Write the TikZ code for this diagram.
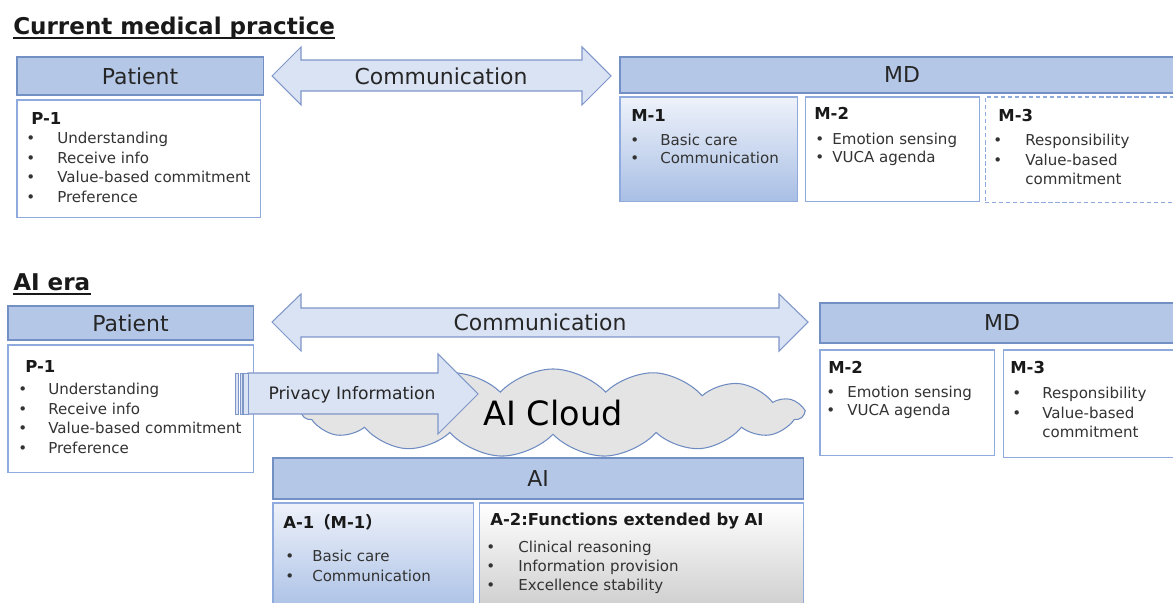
\documentclass[tikz,border=0pt]{standalone}
\usepackage{fontspec}
\setmainfont{DejaVu Sans}
\newfontfamily\jpfont{Noto Sans CJK JP}
\usepackage{tikz}
\usetikzlibrary{positioning}
\usetikzlibrary{shapes.symbols}

\definecolor{hdrfill}{HTML}{B4C7E7}
\definecolor{hdrline}{HTML}{7390C5}
\definecolor{boxline}{HTML}{8FAADC}
\definecolor{arrfill}{HTML}{DAE3F3}
\definecolor{arrline}{HTML}{7F96C8}
\definecolor{cloudfill}{HTML}{E4E4E4}
\definecolor{cloudline}{HTML}{6F8CC2}
\definecolor{gradtop}{HTML}{EEF2FA}
\definecolor{gradbot}{HTML}{A9BFE5}
\definecolor{hdrtext}{HTML}{262626}
\definecolor{bodytext}{HTML}{333333}

\newlength{\pxu}\setlength{\pxu}{0.025cm}
\newcommand{\bul}[1]{\makebox[#1\pxu][l]{\textbullet}}

\begin{document}
\begin{tikzpicture}[x=0.025cm, y=-0.025cm,
  hdrbox/.style={draw=hdrline, fill=hdrfill, line width=0.75pt, text=hdrtext, font=\fontsize{15.6}{18}\selectfont, inner sep=0pt, outer sep=0pt, anchor=north west},
  itembox/.style={draw=boxline, fill=white, line width=0.75pt, inner sep=0pt, outer sep=0pt, anchor=north west},
  boxhead/.style={anchor=west, inner sep=0pt, text=black!90, font=\fontsize{11.7}{14}\selectfont\bfseries},
  boxlist/.style={anchor=north west, inner sep=0pt, align=left, text=bodytext, font=\fontsize{10.7}{13.9}\selectfont},
  boxlisttight/.style={boxlist, font=\fontsize{10.7}{12.6}\selectfont},
  blockarrow/.style={draw=arrline, fill=arrfill, line width=0.75pt, line join=miter},
  arrowtext/.style={inner sep=0pt, text=hdrtext, font=\fontsize{15.6}{18}\selectfont},
  sectitle/.style={anchor=base west, inner sep=0pt, text=black!90, font=\fontsize{16.4}{20}\selectfont\bfseries},
  underl/.style={line width=1.4pt, draw=black!90}]
\useasboundingbox (0,0) rectangle (1173,603);

\node [sectitle] (titleCur) at (13,35) {Current medical practice};
\draw [underl] ([yshift=-0.075cm]titleCur.base west) -- ([yshift=-0.075cm]titleCur.base east);

\node [hdrbox, minimum width=6.15cm, minimum height=0.95cm] (patCur) at (17,57) {Patient};
\node [itembox, minimum width=6.075cm, minimum height=2.925cm, below=0.125cm of patCur.south west, anchor=north west] (p1Cur) {};
\node [boxhead] (p1CurHead) at ([shift={(14,18)}]p1Cur.north west) {P-1};
\node [boxlist] (p1CurList) at ([shift={(9,32)}]p1Cur.north west) {\bul{31}Understanding\\\bul{31}Receive info\\\bul{31}Value-based commitment\\\bul{31}Preference};

\draw [blockarrow] (272,76) -- (301,47) -- (301,60) -- (582,60) -- (582,47) -- (611,76) -- (582,105) -- (582,91) -- (301,91) -- (301,105) -- cycle;
\node [arrowtext] (commCur) at (441,76) {Communication};

\node [hdrbox, minimum width=14.1cm, minimum height=0.9cm] (mdCur) at (620,57) {MD};
\node [itembox, top color=gradtop, bottom color=gradbot, minimum width=4.425cm, minimum height=2.6cm, below=0.1cm of mdCur.south west, anchor=north west] (m1Cur) {};
\node [boxhead] (m1CurHead) at ([shift={(11,18)}]m1Cur.north west) {M-1};
\node [boxlisttight] (m1CurList) at ([shift={(10,37)}]m1Cur.north west) {\bul{30}Basic care\\\bul{30}Communication};
\node [itembox, minimum width=4.35cm, minimum height=2.6cm, right=0.2cm of m1Cur.north east, anchor=north west] (m2Cur) {};
\node [boxhead] (m2CurHead) at ([shift={(9,16)}]m2Cur.north west) {M-2};
\node [boxlisttight] (m2CurList) at ([shift={(10,36)}]m2Cur.north west) {\bul{17}Emotion sensing\\\bul{17}VUCA agenda};
\node [itembox, dash pattern=on 3pt off 2pt, minimum width=5cm, minimum height=2.625cm, right=0.15cm of m2Cur.north east, anchor=north west] (m3Cur) {};
\node [boxhead] (m3CurHead) at ([shift={(13,19)}]m3Cur.north west) {M-3};
\node [boxlist] (m3CurList) at ([shift={(8,37)}]m3Cur.north west) {\bul{32}Responsibility\\\bul{32}Value-based\\\hspace*{32\pxu}commitment};

\node [sectitle] (titleAI) at (13,291) {AI era};
\draw [underl] ([yshift=-0.075cm]titleAI.base west) -- ([yshift=-0.075cm]titleAI.base east);

\node [hdrbox, minimum width=6.125cm, minimum height=0.85cm] (patAI) at (8,306) {Patient};
\node [itembox, minimum width=6.125cm, minimum height=3.175cm, below=0.125cm of patAI.south west, anchor=north west] (p1AI) {};
\node [boxhead] (p1AIHead) at ([shift={(17,21)}]p1AI.north west) {P-1};
\node [boxlist] (p1AIList) at ([shift={(10,38)}]p1AI.north west) {\bul{30}Understanding\\\bul{30}Receive info\\\bul{30}Value-based commitment\\\bul{30}Preference};

\draw [blockarrow] (272,322) -- (301,294) -- (301,308) -- (779,308) -- (779,294) -- (808,322) -- (779,351) -- (779,337) -- (301,337) -- (301,351) -- cycle;
\node [arrowtext] (commAI) at (540,322) {Communication};

\node [hdrbox, minimum width=9.1cm, minimum height=1cm] (mdAI) at (820,303) {MD};
\node [itembox, minimum width=4.35cm, minimum height=2.625cm, below=0.175cm of mdAI.south west, anchor=north west] (m2AI) {};
\node [boxhead] (m2AIHead) at ([shift={(8,17)}]m2AI.north west) {M-2};
\node [boxlisttight] (m2AIList) at ([shift={(6,36)}]m2AI.north west) {\bul{21}Emotion sensing\\\bul{21}VUCA agenda};
\node [itembox, minimum width=4.625cm, minimum height=2.675cm, right=0.225cm of m2AI.north east, anchor=north west] (m3AI) {};
\node [boxhead] (m3AIHead) at ([shift={(7,17)}]m3AI.north west) {M-3};
\node [boxlist] (m3AIList) at ([shift={(9,37)}]m3AI.north west) {\bul{30}Responsibility\\\bul{30}Value-based\\\hspace*{30\pxu}commitment};

\node [cloud, cloud puffs=15, cloud puff arc=95, aspect=5.6, draw=cloudline, fill=cloudfill, line width=0.75pt, inner sep=0pt, minimum width=12.5cm, minimum height=2.2cm, text=black, font=\fontsize{23.8}{28}\selectfont] (aiCloud) at (553,413) {AI Cloud};

\draw [blockarrow] (248,373) -- (438,373) -- (438,354) -- (478,394) -- (438,434) -- (438,414) -- (248,414) -- cycle;
\draw [blockarrow, line width=0.5pt] (235,373) rectangle (238,414);
\draw [blockarrow, line width=0.5pt] (240,373) rectangle (242,414);
\draw [blockarrow, line width=0.5pt] (243,373) rectangle (248,414);
\node [arrowtext, font=\fontsize{12.2}{14}\selectfont] (privInfo) at (352,395) {Privacy Information};

\node [hdrbox, minimum width=13.25cm, minimum height=1.025cm] (aiHdr) at (273,458) {AI};
\node [itembox, top color=gradtop, bottom color=gradbot, minimum width=5cm, minimum height=2.75cm, below=0.1cm of aiHdr.south west, anchor=north west] (a1Box) {};
\node [boxhead] (a1Head) at ([shift={(10,19)}]a1Box.north west) {A-1{\jpfont （}M-1{\jpfont ）}};
\node [boxlist, font=\fontsize{10.7}{14.2}\selectfont] (a1List) at ([shift={(12,47)}]a1Box.north west) {\bul{27}Basic care\\\bul{27}Communication};
\node [itembox, top color=white, bottom color=black!20, minimum width=8.1cm, minimum height=2.75cm, right=0.15cm of a1Box.north east, anchor=north west] (a2Box) {};
\node [boxhead] (a2Head) at ([shift={(11,18)}]a2Box.north west) {A-2:Functions extended by AI};
\node [boxlist, font=\fontsize{10.7}{13.5}\selectfont] (a2List) at ([shift={(7,38)}]a2Box.north west) {\bul{32}Clinical reasoning\\\bul{32}Information provision\\\bul{32}Excellence stability};
\end{tikzpicture}
\end{document}
